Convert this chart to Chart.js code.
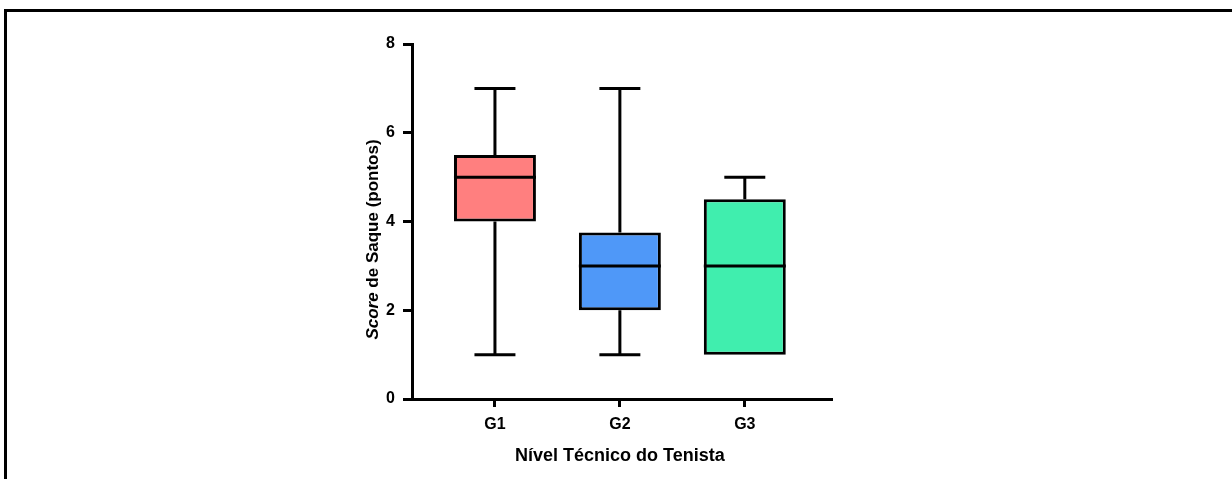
<!DOCTYPE html>
<html>
<head>
<meta charset="utf-8">
<title>Score de Saque</title>
<script src="https://cdn.jsdelivr.net/npm/chart.js@4.4.1/dist/chart.umd.min.js"></script>
<style>
    html, body { margin: 0; padding: 0; background: #fff; }
    #wrap { position: relative; width: 1232px; height: 479px; overflow: hidden; }
    #frame {
        position: absolute; left: 4px; top: 9px; right: -10px; bottom: -10px;
        border-top: 3px solid #000; border-left: 3px solid #000; pointer-events: none;
    }
    canvas { position: absolute; left: 0; top: 0; }
</style>
</head>
<body>
<div id="wrap">
    <canvas id="box-chart" width="1232" height="479"></canvas>
    <div id="frame"></div>
</div>
<script>
// Box plot - Score de Saque por nivel tecnico

const CATEGORIES = ['G1', 'G2', 'G3'];
const X_POS = [1, 2, 3];
const MIN_VALUES = [1, 1, 1];
const Q1_VALUES = [4, 2, 1];
const MEDIAN_VALUES = [5, 3, 3];
const Q3_VALUES = [5.5, 3.75, 4.5];
const MAX_VALUES = [7, 7, 5];
const Y_TICKS = [0, 2, 4, 6, 8];
const BOX_COLORS = ['#ff7f7f', '#4f98f8', '#40eeae'];

const FONT = 'Liberation Sans, Arial, sans-serif';
Chart.defaults.font.family = FONT;

/**
 * Whiskers, caps and median lines, drawn through the chart's scales
 */
const boxPlotLines = {
    id: 'boxPlotLines',
    afterDatasetsDraw(chart) {
        const ctx = chart.ctx;
        const yScale = chart.scales.y;
        const meta = chart.getDatasetMeta(0);
        ctx.save();
        ctx.strokeStyle = '#000';
        ctx.lineWidth = 3;
        ctx.lineCap = 'butt';
        meta.data.forEach((bar, i) => {
            const cx = bar.x;
            const w = bar.width;
            const cap = w / 4;
            const yMin = yScale.getPixelForValue(MIN_VALUES[i]);
            const yQ1 = yScale.getPixelForValue(Q1_VALUES[i]);
            const yMed = yScale.getPixelForValue(MEDIAN_VALUES[i]);
            const yQ3 = yScale.getPixelForValue(Q3_VALUES[i]);
            const yMax = yScale.getPixelForValue(MAX_VALUES[i]);
            ctx.beginPath();
            if (MAX_VALUES[i] > Q3_VALUES[i]) {
                ctx.moveTo(cx, yQ3);
                ctx.lineTo(cx, yMax);
                ctx.moveTo(cx - cap, yMax);
                ctx.lineTo(cx + cap, yMax);
            }
            if (MIN_VALUES[i] < Q1_VALUES[i]) {
                ctx.moveTo(cx, yQ1);
                ctx.lineTo(cx, yMin);
                ctx.moveTo(cx - cap, yMin);
                ctx.lineTo(cx + cap, yMin);
            }
            ctx.moveTo(cx - w / 2, yMed);
            ctx.lineTo(cx + w / 2, yMed);
            ctx.stroke();
        });
        ctx.restore();
    }
};

/**
 * Axis titles (y title has "Score" in italics)
 */
const axisTitles = {
    id: 'axisTitles',
    afterDraw(chart) {
        const ctx = chart.ctx;
        const area = chart.chartArea;
        ctx.save();
        ctx.fillStyle = '#000';
        ctx.textBaseline = 'middle';

        // x title
        ctx.font = `bold 18px ${FONT}`;
        ctx.textAlign = 'center';
        ctx.fillText('Nível Técnico do Tenista', chart.scales.x.getPixelForValue(2), area.bottom + 57);

        // y title
        const part1 = 'Score';
        const part2 = ' de Saque (pontos)';
        ctx.translate(area.left - 39, (area.top + area.bottom) / 2 + 18);
        ctx.rotate(-Math.PI / 2);
        ctx.textAlign = 'left';
        ctx.font = `italic bold 17px ${FONT}`;
        const w1 = ctx.measureText(part1).width;
        ctx.font = `bold 17px ${FONT}`;
        const w2 = ctx.measureText(part2).width;
        const start = -(w1 + w2) / 2;
        ctx.font = `italic bold 17px ${FONT}`;
        ctx.fillText(part1, start, 0);
        ctx.font = `bold 17px ${FONT}`;
        ctx.fillText(part2, start + w1, 0);
        ctx.restore();
    }
};

const ctx = document.getElementById('box-chart').getContext('2d');

new Chart(ctx, {
    type: 'bar',
    data: {
        datasets: [{
            data: X_POS.map((x, i) => ({ x, y: [Q1_VALUES[i], Q3_VALUES[i]] })),
            backgroundColor: BOX_COLORS,
            borderColor: '#000',
            borderWidth: 3,
            borderSkipped: false,
            barPercentage: 0.656,
            categoryPercentage: 1
        }]
    },
    options: {
        responsive: false,
        animation: false,
        layout: { padding: { left: 352, right: 401, top: 44, bottom: 40 } },
        plugins: {
            legend: { display: false },
            tooltip: { enabled: false }
        },
        scales: {
            x: {
                type: 'linear',
                min: 0.336,
                max: 3.69,
                offset: false,
                afterBuildTicks: (s) => { s.ticks = X_POS.map(v => ({ value: v })); },
                afterFit: (s) => { s.height = 40; },
                border: { display: true, color: '#000', width: 3 },
                grid: { offset: false, drawOnChartArea: false, drawTicks: true, tickLength: 8, color: '#000', lineWidth: 3 },
                ticks: {
                    autoSkip: false,
                    maxRotation: 0,
                    padding: 8,
                    color: '#000',
                    font: { size: 16, weight: 'bold' },
                    callback: (v) => CATEGORIES[X_POS.indexOf(v)] ?? ''
                }
            },
            y: {
                min: 0,
                max: 8,
                afterBuildTicks: (s) => { s.ticks = Y_TICKS.map(v => ({ value: v })); },
                afterFit: (s) => { s.width = 60; },
                border: { display: true, color: '#000', width: 3 },
                grid: { drawOnChartArea: false, drawTicks: true, tickLength: 9, color: '#000', lineWidth: 3 },
                ticks: {
                    padding: 8,
                    color: '#000',
                    font: { size: 16, weight: 'bold' }
                }
            }
        }
    },
    plugins: [boxPlotLines, axisTitles]
});
</script>
</body>
</html>
